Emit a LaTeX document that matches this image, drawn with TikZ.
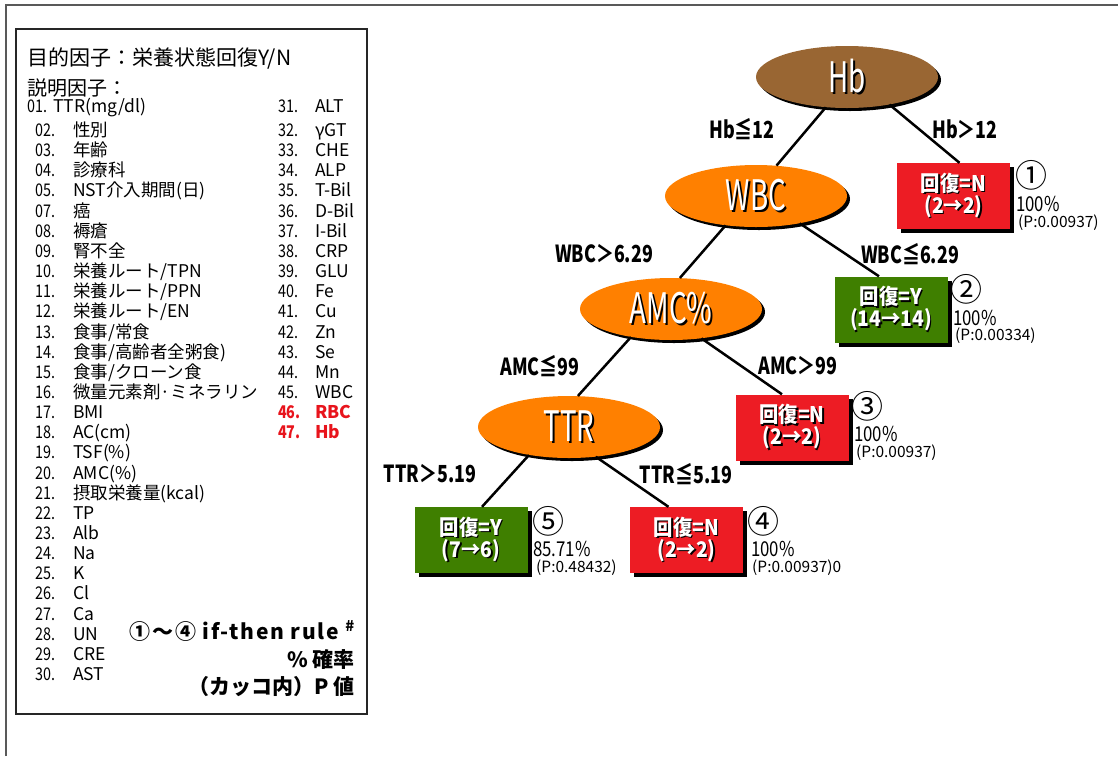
\documentclass[tikz,border=0pt]{standalone}
\usepackage{fontspec}
\setmainfont{Noto Sans CJK JP}
\newfontfamily\condfont[FakeStretch=0.82]{Noto Sans CJK JP}
\newfontfamily\labelfont[FakeStretch=0.76]{Noto Sans CJK JP}
\newfontfamily\leaffont[FakeStretch=0.9]{Noto Sans CJK JP}
\newfontfamily\narrowfont[FakeStretch=0.66]{Noto Sans CJK JP}
\usetikzlibrary{shapes.geometric,shadows,calc}
\definecolor{hbbrown}{HTML}{996633}
\definecolor{nodeorange}{HTML}{FF8000}
\definecolor{leafred}{HTML}{ED1C24}
\definecolor{leafgreen}{HTML}{3F7F00}
\definecolor{txtred}{HTML}{E8141C}
\newcommand{\shadowtxt}[2][1.5pt]{\makebox[0pt][l]{\kern#1\raisebox{-#1}{\color{black}#2}}{\color{white}#2}}
\tikzset{
  splitnode/.style={ellipse, minimum width=182pt, minimum height=62pt, inner sep=0pt,
    drop shadow={shadow xshift=3pt, shadow yshift=-3pt, fill=black, opacity=1},
    font=\narrowfont\fontsize{42}{42}\selectfont},
  leafnode/.style={rectangle, minimum width=113pt, minimum height=66pt, inner sep=0pt, align=center,
    drop shadow={shadow xshift=4pt, shadow yshift=-4pt, fill=black, opacity=1},
    font=\leaffont\bfseries\fontsize{21.5}{22}\selectfont},
  branch/.style={line width=2.5pt, black},
  elabel/.style={font=\labelfont\bfseries\fontsize{23.5}{23.5}\selectfont, inner sep=0pt},
  circnum/.style={font=\fontsize{32}{32}\selectfont, inner sep=0pt},
  pct/.style={font=\condfont\fontsize{20.5}{20.5}\selectfont, anchor=west, inner sep=0pt},
  pval/.style={font=\fontsize{15.5}{15.5}\selectfont, anchor=west, inner sep=0pt},
  lst/.style={font=\fontsize{17.5}{17.5}\selectfont, anchor=base west, inner sep=0pt},
  lstnum/.style={font=\condfont\fontsize{17.5}{17.5}\selectfont, anchor=base west, inner sep=0pt},
  lstred/.style={lst, font=\bfseries\fontsize{17.5}{17.5}\selectfont, text=txtred},
  lstrednum/.style={lst, font=\condfont\bfseries\fontsize{17.5}{17.5}\selectfont, text=txtred},
  note/.style={font=\bfseries\fontsize{21}{21}\selectfont, anchor=base east, inner sep=0pt}
}
\begin{document}
\begin{tikzpicture}[x=1pt,y=-1pt]
\useasboundingbox (0,0) rectangle (1118,756);
% outer frame
\draw[line width=1.6pt, black!65] (6,756) -- (6,5) -- (1118,5);
% legend box
\draw[line width=1.8pt, black!85] (16,29) rectangle (367,714);
\node[anchor=base west, inner sep=0pt, font=\fontsize{21}{21}\selectfont] (title) at (27,65) {目的因子：栄養状態回復Y/N};
\node[anchor=base west, inner sep=0pt, font=\fontsize{20}{20}\selectfont] (expl) at (27,95.5) {説明因子：};
\node[lstnum] (ln01) at (27,112.5) {01.};
\node[lst] (lt01) at (53,112.5) {TTR(mg/dl)};
\foreach \n/\t [count=\i from 0] in {02/性別, 03/年齢, 04/診療科, 05/NST介入期間(日), 07/癌, 08/褥瘡, 09/腎不全,
  10/{栄養ルート/TPN}, 11/{栄養ルート/PPN}, 12/{栄養ルート/EN}, 13/{食事/常食}, 14/{食事/高齢者全粥食)},
  15/{食事/クローン食}, 16/微量元素剤·ミネラリン, 17/BMI, 18/AC(cm), 19/TSF(\%), 20/AMC(\%),
  21/摂取栄養量(kcal), 22/TP, 23/Alb, 24/Na, 25/K, 26/Cl, 27/Ca, 28/UN, 29/CRE, 30/AST}{
  \pgfmathsetmacro\yy{136.5+\i*20.15}
  \node[lstnum] (ln\n) at (35,\yy) {\n.};
  \node[lst] (lt\n) at (73,\yy) {\t};
}
\node[lstnum] (rn31) at (278,112.5) {31.};
\node[lst] (rt31) at (315,112.5) {ALT};
\foreach \n/\t [count=\i from 0] in {32/γGT, 33/CHE, 34/ALP, 35/T-Bil, 36/D-Bil, 37/I-Bil, 38/CRP, 39/GLU,
  40/Fe, 41/Cu, 42/Zn, 43/Se, 44/Mn, 45/WBC}{
  \pgfmathsetmacro\yy{136.5+\i*20.15}
  \node[lstnum] (rn\n) at (278,\yy) {\n.};
  \node[lst] (rt\n) at (315,\yy) {\t};
}
\node[lstrednum] (rn46) at (278,418.6) {46.};
\node[lstred] (rt46) at (315,418.6) {RBC};
\node[lstrednum] (rn47) at (278,438.75) {47.};
\node[lstred] (rt47) at (315,438.75) {Hb};
\node[note] (rule) at (355,639) {\addfontfeature{LetterSpace=8}①～④ if-then rule \textsuperscript{\#}};
\node[note] (prob) at (355,667) {\% 確率};
\node[note] (pv) at (355,694) {（カッコ内）P 値};
% tree nodes
\node[splitnode, fill=hbbrown] (hb) at (847,77) {\shadowtxt[2pt]{Hb}};
\node[splitnode, fill=nodeorange] (wbc) at (756,196) {\shadowtxt[2pt]{WBC}};
\node[splitnode, fill=nodeorange] (amc) at (671,309) {\shadowtxt[2pt]{AMC\%}};
\node[splitnode, fill=nodeorange] (ttr) at (569,427) {\shadowtxt[2pt]{TTR}};
\node[leafnode, fill=leafred] (l1) at (953.5,196) {\shadowtxt{回復=N}\\\shadowtxt{(2→2)}};
\node[leafnode, fill=leafgreen] (l2) at (891,309.5) {\shadowtxt{回復=Y}\\\shadowtxt{(14→14)}};
\node[leafnode, fill=leafred] (l3) at (792,427.5) {\shadowtxt{回復=N}\\\shadowtxt{(2→2)}};
\node[leafnode, fill=leafgreen] (l5) at (471,540) {\shadowtxt{回復=Y}\\\shadowtxt{(7→6)}};
\node[leafnode, fill=leafred] (l4) at (686.5,540) {\shadowtxt{回復=N}\\\shadowtxt{(2→2)}};
% branches
\draw[branch] (hb.235) -- (wbc.56);
\draw[branch] (hb.327) -- ($(l1.north)+(6,0)$);
\draw[branch] (wbc.328) -- ($(l2.north)+(-12,0)$);
\draw[branch] (wbc.224) -- (amc.74);
\draw[branch] (amc.316) -- ($(l3.north)+(-10,0)$);
\draw[branch] (amc.215) -- (ttr.74);
\draw[branch] (ttr.215) -- ($(l5.north)+(11,0)$);
\draw[branch] (ttr.312) -- ($(l4.north)+(-18,0)$);
% branch labels
\node[elabel] (e1) at (742,129) {Hb≦12};
\node[elabel] (e2) at (965,129) {Hb＞12};
\node[elabel] (e3) at (604,254) {WBC＞6.29};
\node[elabel] (e4) at (910,254) {WBC≦6.29};
\node[elabel] (e5) at (540,366) {AMC≦99};
\node[elabel] (e6) at (798,366) {AMC＞99};
\node[elabel] (e7) at (430,474) {TTR＞5.19};
\node[elabel] (e8) at (686,474) {TTR≦5.19};
% leaf annotations
\node[circnum] (c1) at (1031,175) {①};
\node[pct] (p1) at (1016,204) {100\%};
\node[pval] (v1) at (1018,223) {(P:0.00937)};
\node[circnum] (c2) at (966,289) {②};
\node[pct] (p2) at (953,318) {100\%};
\node[pval] (v2) at (955,336) {(P:0.00334)};
\node[circnum] (c3) at (867,406) {③};
\node[pct] (p3) at (854,434) {100\%};
\node[pval] (v3) at (856,453) {(P:0.00937)};
\node[circnum] (c5) at (548,521) {⑤};
\node[pct] (p5) at (533,549) {85.71\%};
\node[pval] (v5) at (536,568) {(P:0.48432)};
\node[circnum] (c4) at (763,521) {④};
\node[pct] (p4) at (751,549) {100\%};
\node[pval] (v4) at (752,568) {(P:0.00937)0};
\end{tikzpicture}
\end{document}
